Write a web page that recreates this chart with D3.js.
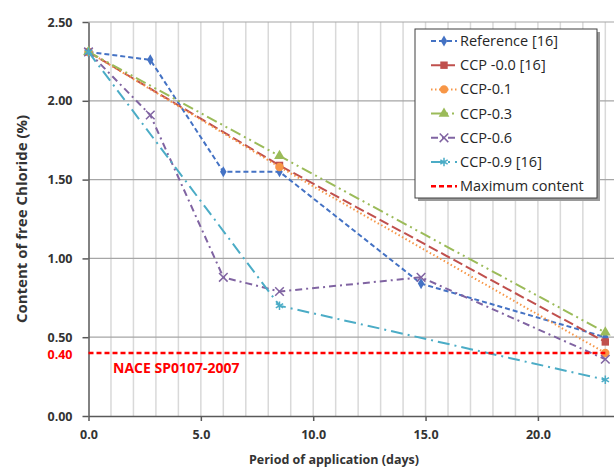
<!DOCTYPE html>
<html>
<head>
<meta charset="utf-8">
<script src="https://cdn.jsdelivr.net/npm/d3@7"></script>
<style>
  body { margin: 0; background: #fff; }
  svg text { font-family: "Open Sans", "Noto Sans", sans-serif; }
</style>
</head>
<body>
<svg id="chart"></svg>
<script>
// Values (days / % free chloride).
const refDays = [0, 2.75, 6.0, 8.5, 14.8, 23.0];
const refVals = [2.31, 2.26, 1.55, 1.55, 0.84, 0.50];
const ccp00Days = [0, 8.5, 23.0];
const ccp00Vals = [2.31, 1.59, 0.47];
const ccp01Days = [0, 8.5, 23.0];
const ccp01Vals = [2.31, 1.58, 0.40];
const ccp03Days = [0, 8.5, 23.0];
const ccp03Vals = [2.31, 1.65, 0.53];
const ccp06Days = [0, 2.75, 6.0, 8.5, 14.8, 23.0];
const ccp06Vals = [2.31, 1.91, 0.88, 0.79, 0.88, 0.36];
const ccp09Days = [0, 8.5, 23.0];
const ccp09Vals = [2.31, 0.70, 0.23];
const maxDays = [0, 23.0];
const maxVals = [0.40, 0.40];

const seriesNames = ["Reference [16]", "CCP -0.0 [16]", "CCP-0.1", "CCP-0.3", "CCP-0.6", "CCP-0.9 [16]", "Maximum content"];
const xTicks = [0, 5, 10, 15, 20];
const yTicks = [0, 0.5, 1.0, 1.5, 2.0, 2.5];
const limitLabel = "0.40";
const limitNote = "NACE SP0107-2007";

const width = 614, height = 471;
const svg = d3.select("#chart").attr("width", width).attr("height", height);

// Scales: plot is cropped on the right in the original picture.
const x = d3.scaleLinear().domain([0, 25]).range([88.5, 88.5 + 25 * 22.47]);
const y = d3.scaleLinear().domain([0, 2.5]).range([416, 22]);

// Series table built from the arrays above.
const series = [
  {name: seriesNames[0], days: refDays, vals: refVals, color: "#4472C4", dash: "5,3", marker: "diamond"},
  {name: seriesNames[1], days: ccp00Days, vals: ccp00Vals, color: "#C0504D", dash: "10,4", marker: "square"},
  {name: seriesNames[2], days: ccp01Days, vals: ccp01Vals, color: "#F79646", dash: "1.5,2.5", marker: "circle"},
  {name: seriesNames[3], days: ccp03Days, vals: ccp03Vals, color: "#9BBB59", dash: "11,4,2,4,2,4", marker: "triangle"},
  {name: seriesNames[4], days: ccp06Days, vals: ccp06Vals, color: "#8064A2", dash: "7,4,2,4", marker: "x"},
  {name: seriesNames[5], days: ccp09Days, vals: ccp09Vals, color: "#4BACC6", dash: "12,5,2,5", marker: "asterisk"},
  {name: seriesNames[6], days: maxDays, vals: maxVals, color: "#FF0000", dash: "5,3", marker: null, width: 2.5}
];

// Grid lines
const grid = svg.append("g");
grid.selectAll(".vgrid")
  .data(d3.range(1, 26))
  .enter().append("line")
  .attr("x1", d => x(d)).attr("x2", d => x(d))
  .attr("y1", y(0)).attr("y2", y(2.5))
  .attr("stroke", "#d9d9d9").attr("stroke-width", 1.5);
grid.selectAll(".hgrid")
  .data(yTicks.slice(1))
  .enter().append("line")
  .attr("x1", x(0)).attr("x2", width)
  .attr("y1", d => y(d)).attr("y2", d => y(d))
  .attr("stroke", "#a6a6a6").attr("stroke-width", 1.2);

// Axes
const yAxis = svg.append("g")
  .attr("transform", `translate(${x(0)},0)`)
  .call(d3.axisLeft(y).tickValues(yTicks).tickSize(6).tickSizeOuter(0).tickPadding(10).tickFormat(d3.format(".2f")));
const xAxis = svg.append("g")
  .attr("transform", `translate(0,${y(0)})`)
  .call(d3.axisBottom(x).tickValues(xTicks).tickSize(5).tickSizeOuter(0).tickPadding(9).tickFormat(d3.format(".1f")));
[yAxis, xAxis].forEach(a => {
  a.select(".domain").attr("stroke", "#595959").attr("stroke-width", 1.5);
  a.selectAll(".tick line").attr("stroke", "#595959").attr("stroke-width", 1.5);
  a.selectAll(".tick text").attr("fill", "#333").style("font-size", "12.5px").style("font-weight", "bold");
});

// Red limit label on y axis
svg.append("text")
  .attr("x", x(0) - 16).attr("y", y(0.4) + 2)
  .attr("dy", "0.35em").attr("text-anchor", "end")
  .attr("fill", "#FF0000").style("font-size", "12.5px").style("font-weight", "bold")
  .text(limitLabel);

// Axis titles
svg.append("text")
  .attr("transform", `translate(22,219) rotate(-90)`)
  .attr("text-anchor", "middle").attr("dy", "0.35em")
  .attr("fill", "#333").style("font-size", "15px").style("font-weight", "bold")
  .text("Content of free Chloride (%)");
svg.append("text")
  .attr("x", 334).attr("y", 460).attr("dy", "0.35em")
  .attr("text-anchor", "middle")
  .attr("fill", "#333").style("font-size", "12.5px").style("font-weight", "bold")
  .text("Period of application (days)");

// Marker drawing
function drawMarker(g, type, color) {
  if (!type) return;
  const shapes = {
    diamond: [d3.symbolDiamond, 36, true],
    square: [d3.symbolSquare, 55, true],
    circle: [d3.symbolCircle, 55, true],
    triangle: [d3.symbolTriangle, 50, true],
    x: [d3.symbolX, 50, false],
    asterisk: [d3.symbolAsterisk, 50, false]
  };
  const [sym, size, filled] = shapes[type];
  const p = g.append("path").attr("d", d3.symbol(sym, size)());
  if (filled) p.attr("fill", color).attr("stroke", "none");
  else p.attr("fill", "none").attr("stroke", color).attr("stroke-width", 1.5);
}

const line = d3.line().x(d => x(d[0])).y(d => y(d[1]));
const gSeries = svg.append("g");
series.forEach(s => {
  const pts = s.days.map((d, i) => [d, s.vals[i]]);
  gSeries.append("path")
    .attr("d", line(pts))
    .attr("fill", "none")
    .attr("stroke", s.color)
    .attr("stroke-width", s.width || 2)
    .attr("stroke-dasharray", s.dash);
  pts.forEach(p => {
    const g = gSeries.append("g").attr("transform", `translate(${x(p[0])},${y(p[1])})`);
    drawMarker(g, s.marker, s.color);
  });
});

// NACE note
svg.append("text")
  .attr("x", 113).attr("y", y(0.4) + 15).attr("dy", "0.35em")
  .attr("fill", "#FF0000").style("font-size", "14px").style("font-weight", "bold")
  .text(limitNote);

// Legend
const lg = svg.append("g");
lg.append("rect").attr("x", 418).attr("y", 32).attr("width", 182).attr("height", 169).attr("fill", "#9a9a9a");
lg.append("rect").attr("x", 415).attr("y", 29).attr("width", 182).attr("height", 169)
  .attr("fill", "#fff").attr("stroke", "#404040").attr("stroke-width", 1);
series.forEach((s, i) => {
  const cy = 41 + i * 24.2;
  const row = lg.append("g").attr("transform", `translate(0,${cy})`);
  row.append("line").attr("x1", 431).attr("x2", 457).attr("y1", 0).attr("y2", 0)
    .attr("stroke", s.color).attr("stroke-width", s.width || 2).attr("stroke-dasharray", s.dash);
  drawMarker(row.append("g").attr("transform", "translate(444,0)"), s.marker, s.color);
  row.append("text").attr("x", 460).attr("y", 0).attr("dy", "0.35em")
    .attr("fill", "#262626").style("font-size", "14.5px")
    .text(s.name);
});
</script>
</body>
</html>
